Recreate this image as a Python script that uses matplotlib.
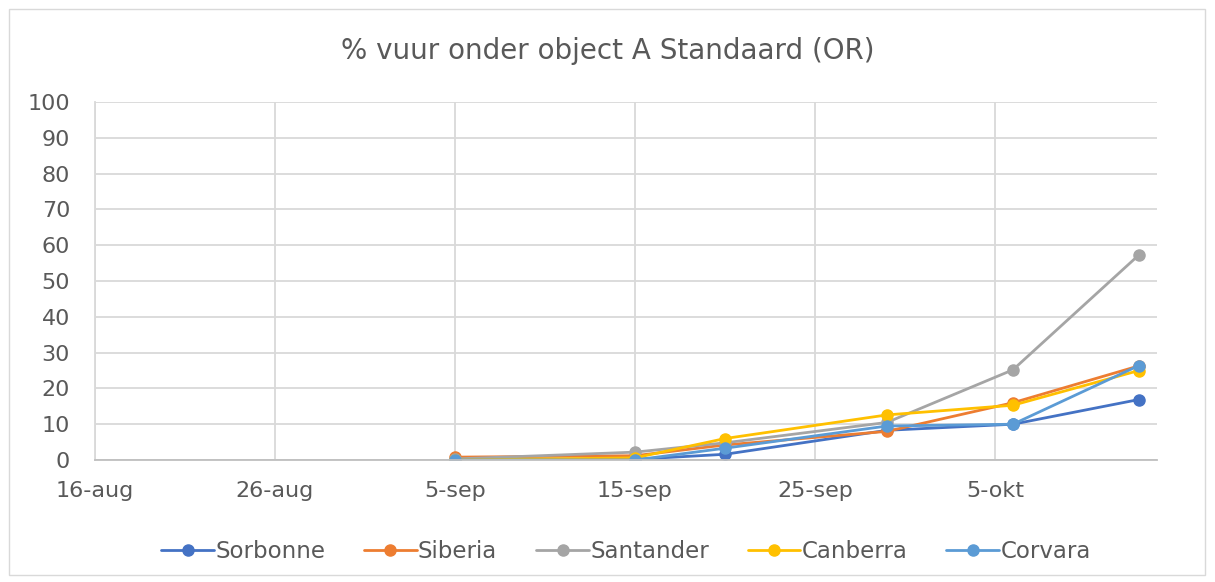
import matplotlib as mpl
import matplotlib.pyplot as plt
import numpy as np

mpl.rcParams['font.family'] = 'DejaVu Sans'

dates = np.array(['2021-09-05', '2021-09-15', '2021-09-20', '2021-09-29',
                  '2021-10-06', '2021-10-13'], dtype='datetime64[D]')
sorbonne = [0.0, 0.2, 1.6, 8.3, 10.0, 16.9]
siberia = [0.8, 1.2, 4.2, 8.0, 16.0, 26.3]
santander = [0.3, 2.2, 4.8, 10.5, 25.2, 57.3]
canberra = [0.0, 0.6, 6.0, 12.6, 15.3, 25.0]
corvara = [0.0, 0.0, 3.3, 9.5, 10.0, 26.4]

tick_dates = np.array(['2021-08-16', '2021-08-26', '2021-09-05', '2021-09-15',
                       '2021-09-25', '2021-10-05'], dtype='datetime64[D]')
tick_labels = ['16-aug', '26-aug', '5-sep', '15-sep', '25-sep', '5-okt']
x_min, x_max = np.datetime64('2021-08-16'), np.datetime64('2021-10-14')

series = [
    ('Sorbonne', sorbonne, '#4472C4'),
    ('Siberia', siberia, '#ED7D31'),
    ('Santander', santander, '#A5A5A5'),
    ('Canberra', canberra, '#FFC000'),
    ('Corvara', corvara, '#5B9BD5'),
]

txt = '#595959'
grid = '#D9D9D9'

fig = plt.figure(figsize=(12.15, 5.82), dpi=100)
ax = fig.add_axes([0.0782, 0.2096, 0.874, 0.615])

for name, vals, col in series:
    ax.plot(dates, vals, color=col, lw=2.0, marker='o', markersize=8,
            label=name, solid_capstyle='round')

ax.set_xlim(x_min, x_max)
ax.set_ylim(0, 100)
ax.set_yticks(np.arange(0, 101, 10))
ax.set_xticks(tick_dates)
ax.set_xticklabels(tick_labels)

ax.grid(True, color=grid, lw=1.3)
ax.set_axisbelow(True)
for s in ['top', 'right']:
    ax.spines[s].set_visible(False)
ax.spines['left'].set_color(grid)
ax.spines['bottom'].set_color('#BFBFBF')
ax.spines['left'].set_linewidth(1.3)
ax.spines['bottom'].set_linewidth(1.3)
ax.tick_params(axis='both', length=0, colors=txt, labelsize=16)
ax.tick_params(axis='x', pad=15)
ax.tick_params(axis='y', pad=18)

fig.text(0.5, 0.913, '% vuur onder object A Standaard (OR)', ha='center',
         va='center', fontsize=20, color=txt)

ax.legend(loc='center', bbox_to_anchor=(0.5, -0.255), ncol=5, frameon=False,
          fontsize=16.5, labelcolor=txt, handlelength=2.3, handletextpad=0.05,
          columnspacing=1.7)

fig.add_artist(plt.Rectangle((0.007, 0.012), 0.985, 0.972, transform=fig.transFigure,
                             fill=False, edgecolor='#D9D9D9', lw=1))

fig.savefig('out.png', dpi=100)
